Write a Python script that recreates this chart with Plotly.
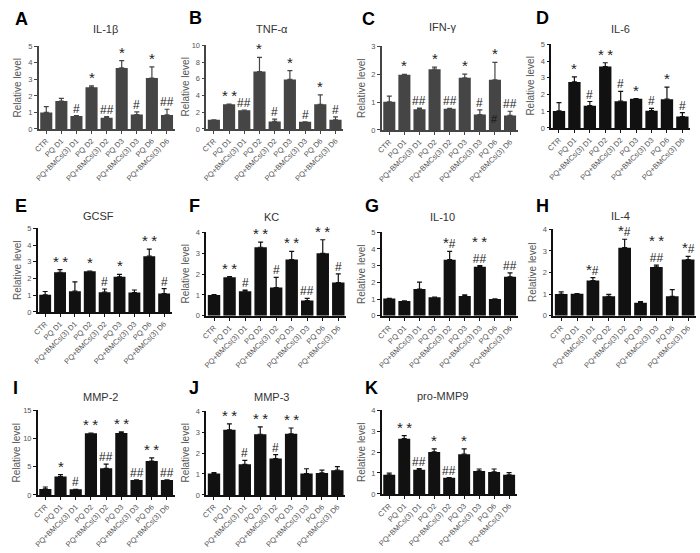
import plotly.graph_objects as go

categories = ["CTR", "PQ D1", "PQ+BMCs(3) D1", "PQ D2", "PQ+BMCs(3) D2",
              "PQ D3", "PQ+BMCs(3) D3", "PQ D6", "PQ+BMCs(3) D6"]

# ---- data (mean, upper error bar top) ----
il1b = [1.00, 1.69, 0.79, 2.52, 0.67, 3.69, 0.87, 3.08, 0.85]
il1b_top = [1.35, 1.85, 0.80, 2.60, 0.75, 4.13, 1.03, 3.75, 1.19]
il1b_sig = ["", "", "#", "*", "##", "*", "#", "*", "##"]

tnfa = [1.10, 2.94, 2.24, 6.86, 0.90, 5.92, 0.86, 2.94, 1.10]
tnfa_top = [1.10, 2.96, 2.26, 8.55, 1.18, 6.98, 0.86, 4.08, 1.45]
tnfa_sig = ["", "**", "##", "*", "#", "*", "#", "*", "#"]

ifng = [1.01, 1.98, 0.74, 2.18, 0.76, 1.87, 0.55, 1.80, 0.52]
ifng_top = [1.21, 1.99, 0.78, 2.25, 0.77, 2.00, 0.72, 2.42, 0.67]
ifng_sig = ["", "*", "##", "*", "##", "*", "#", "*", "##"]

il6 = [1.02, 2.75, 1.33, 3.67, 1.60, 1.74, 1.03, 1.72, 0.68]
il6_top = [1.52, 3.05, 1.58, 3.90, 2.19, 1.75, 1.17, 2.44, 0.92]
il6_sig = ["", "*", "#", "**", "#", "*", "#", "*", "#"]

gcsf = [1.02, 2.37, 1.24, 2.43, 1.18, 2.10, 1.16, 3.33, 1.10]
gcsf_top = [1.22, 2.53, 1.80, 2.44, 1.37, 2.25, 1.31, 3.76, 1.39]
gcsf_sig = ["", "**", "", "*", "#", "*", "", "**", "#"]

kc = [1.00, 1.85, 1.18, 3.28, 1.35, 2.69, 0.73, 2.99, 1.59]
kc_top = [1.01, 1.88, 1.23, 3.53, 1.84, 3.08, 0.84, 3.64, 2.01]
kc_sig = ["", "**", "#", "**", "#", "**", "##", "**", "#"]

il10 = [1.03, 0.89, 1.60, 1.11, 3.36, 1.19, 2.94, 1.01, 2.33]
il10_top = [1.04, 0.90, 2.02, 1.12, 3.85, 1.26, 3.00, 1.02, 2.57]
il10_sig = ["", "", "", "", "*#", "", "**<br>##", "", "##"]

il4 = [1.01, 1.02, 1.63, 0.90, 3.15, 0.60, 2.26, 0.90, 2.60]
il4_top = [1.11, 1.03, 1.77, 0.99, 3.54, 0.66, 2.34, 1.21, 2.75]
il4_sig = ["", "", "*#", "", "*#", "", "**<br>##", "", "*#"]

mmp2 = [1.05, 3.26, 0.99, 10.93, 4.71, 10.99, 2.62, 5.99, 2.62]
mmp2_top = [1.40, 3.60, 1.00, 10.95, 5.47, 11.16, 2.65, 6.57, 2.65]
mmp2_sig = ["", "*", "#", "**", "##", "**", "##", "**", "##"]

mmp3 = [1.02, 3.11, 1.46, 2.90, 1.74, 2.92, 1.02, 1.05, 1.18]
mmp3_top = [1.07, 3.40, 1.65, 3.25, 1.93, 3.20, 1.25, 1.18, 1.35]
mmp3_sig = ["", "**", "#", "**", "#", "**", "", "", ""]

pmmp9 = [0.91, 2.64, 1.15, 2.01, 0.77, 1.90, 1.10, 1.05, 0.91]
pmmp9_top = [0.99, 2.79, 1.21, 2.15, 0.78, 2.15, 1.19, 1.19, 1.02]
pmmp9_sig = ["", "**", "##", "*", "##", "*", "", "", ""]

# ---- layout of panels (pixel boxes: x0, x1, ytop, ybottom) ----
W, H = 700, 553
GRAY = "#454545"
BLACK = "#111111"
panels = [
    dict(L="A", T="IL-1β", v=il1b, t=il1b_top, s=il1b_sig, ymax=5, dt=1, c=GRAY, box=(33, 170, 43, 127), lp=(7, 15), tp=(100, 25)),
    dict(L="B", T="TNF-α", v=tnfa, t=tnfa_top, s=tnfa_sig, ymax=10, dt=2, c=GRAY, box=(202, 340, 42, 127), lp=(183, 14), tp=(268, 25)),
    dict(L="C", T="IFN-γ", v=ifng, t=ifng_top, s=ifng_sig, ymax=3, dt=1, c=GRAY, box=(379, 516, 43, 128), lp=(357, 15), tp=(440, 23)),
    dict(L="D", T="IL-6", v=il6, t=il6_top, s=il6_sig, ymax=5, dt=1, c=BLACK, box=(550, 690, 41, 126), lp=(533, 14), tp=(620, 25)),
    dict(L="E", T="GCSF", v=gcsf, t=gcsf_top, s=gcsf_sig, ymax=5, dt=1, c=BLACK, box=(32, 167, 228, 313), lp=(7, 205), tp=(93, 215)),
    dict(L="F", T="KC", v=kc, t=kc_top, s=kc_sig, ymax=4, dt=1, c=BLACK, box=(202, 343, 232, 317), lp=(183, 205), tp=(268, 217)),
    dict(L="G", T="IL-10", v=il10, t=il10_top, s=il10_sig, ymax=5, dt=1, c=BLACK, box=(379, 516, 232, 317), lp=(360, 205), tp=(440, 217)),
    dict(L="H", T="IL-4", v=il4, t=il4_top, s=il4_sig, ymax=4, dt=1, c=BLACK, box=(552, 696, 229, 317), lp=(533, 205), tp=(620, 215)),
    dict(L="I", T="MMP-2", v=mmp2, t=mmp2_top, s=mmp2_sig, ymax=15, dt=5, c=BLACK, box=(32, 170, 413, 499), lp=(5, 390), tp=(95, 400)),
    dict(L="J", T="MMP-3", v=mmp3, t=mmp3_top, s=mmp3_sig, ymax=4, dt=1, c=BLACK, box=(202, 342, 414, 499), lp=(183, 390), tp=(268, 400)),
    dict(L="K", T="pro-MMP9", v=pmmp9, t=pmmp9_top, s=pmmp9_sig, ymax=4, dt=1, c=BLACK, box=(379, 515, 413, 498), lp=(360, 390), tp=(440, 398)),
]

FONT = "Arial, Liberation Sans, sans-serif"
STAR = "<span style='font-size:15px'>*</span>"


def sig_text(s):
    out = s.replace("**", "* *")
    return out.replace("*", STAR)


fig = go.Figure()
annotations = []
layout = {}

for i, p in enumerate(panels):
    n = "" if i == 0 else str(i + 1)
    xa, ya = "x" + n, "y" + n
    x0, x1, yt, yb = p["box"]
    err = [max(t - v, 0) for t, v in zip(p["t"], p["v"])]
    fig.add_trace(go.Bar(
        x=list(range(len(categories))), y=p["v"], xaxis=xa, yaxis=ya,
        marker=dict(color=p["c"], line=dict(width=0)),
        error_y=dict(type="data", symmetric=False, array=err,
                     arrayminus=[0] * len(err), color=p["c"],
                     thickness=1.2, width=2.5),
        showlegend=False, hoverinfo="skip"))
    layout["xaxis" + n] = dict(
        domain=[x0 / W, x1 / W], anchor=ya, range=[-0.5, 8.5],
        tickmode="array", tickvals=list(range(len(categories))), ticktext=categories,
        tickangle=-45, ticks="outside", ticklen=3, tickwidth=1, tickcolor=p["c"],
        showline=True, linecolor=p["c"], linewidth=1.5, showgrid=False, zeroline=False,
        tickfont=dict(size=7.5, color="#555555", family=FONT), fixedrange=True)
    layout["yaxis" + n] = dict(
        domain=[1 - yb / H, 1 - yt / H], anchor=xa, range=[0, p["ymax"]],
        tickmode="linear", tick0=0, dtick=p["dt"], ticks="outside", ticklen=3,
        tickwidth=1, tickcolor=p["c"], showline=True, linecolor=p["c"], linewidth=1.5,
        showgrid=False, zeroline=False,
        tickfont=dict(size=7.5, color="#555555", family=FONT), fixedrange=True)
    # significance marks
    for k, s in enumerate(p["s"]):
        if s:
            annotations.append(dict(
                x=k, y=p["t"][k], xref=xa, yref=ya, text=sig_text(s),
                showarrow=False, yanchor="bottom", yshift=-2,
                font=dict(size=12, color="#222222", family=FONT)))
    # panel letter
    annotations.append(dict(x=p["lp"][0] / W, y=1 - p["lp"][1] / H, xref="paper", yref="paper",
                            text="<b>" + p["L"] + "</b>", showarrow=False,
                            xanchor="left", yanchor="middle",
                            font=dict(size=18, color="#000000", family=FONT)))
    # title
    annotations.append(dict(x=p["tp"][0] / W, y=1 - p["tp"][1] / H, xref="paper", yref="paper",
                            text=p["T"], showarrow=False, xanchor="center", yanchor="middle",
                            font=dict(size=11, color="#333333", family=FONT)))
    # y-axis title
    annotations.append(dict(x=(x0 - 21) / W, y=1 - (yt + yb) / 2 / H, xref="paper", yref="paper",
                            text="Relative level", showarrow=False, textangle=-90,
                            xanchor="center", yanchor="middle",
                            font=dict(size=10, color="#555555", family=FONT)))

# '#' drawn inside the PQ D6 bar of panel C
annotations.append(dict(x=7, y=0.39, xref="x3", yref="y3", text="#", showarrow=False,
                        yanchor="middle", font=dict(size=11, color="#111111", family=FONT)))

fig.update_layout(
    width=W, height=H, autosize=False,
    margin=dict(l=0, r=0, t=0, b=0),
    paper_bgcolor="white", plot_bgcolor="white",
    bargap=0.2, annotations=annotations, **layout)

fig.write_html("out.html", config={"displayModeBar": False},
               post_script="document.body.style.margin='0';document.body.style.overflow='hidden';")
